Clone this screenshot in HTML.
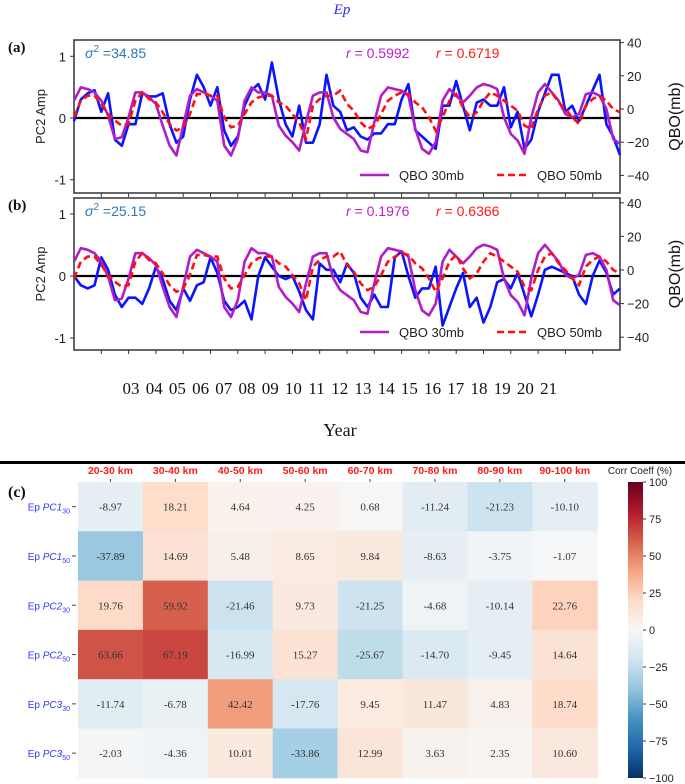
<!DOCTYPE html>
<html><head><meta charset="utf-8"><style>
body{margin:0;background:#fff;}
svg{display:block;}
</style></head><body>
<svg id="fig" width="685" height="784" viewBox="0 0 685 784" xmlns="http://www.w3.org/2000/svg">
<text x="342" y="14" text-anchor="middle" font-family="Liberation Serif, serif" font-style="italic" font-size="15" fill="#2a2aff">Ep</text>
<g id="pa"></g>
<g id="pb"></g>
<g id="years"></g>
<text x="340" y="436" text-anchor="middle" font-family="Liberation Serif, serif" font-size="18" fill="#111">Year</text>
<rect x="0" y="461" width="685" height="3" fill="#000"/>
<text x="8" y="497" font-family="Liberation Serif, serif" font-weight="bold" font-size="16" fill="#111">(c)</text>
<g id="hm"></g>
</svg>
<script>
// ---- data ----
const startYear = 2002, stepYear = 0.25;
const pc2A = [-0.05,0.3,0.4,0.45,0.1,0.4,-0.35,-0.45,-0.1,-0.1,0.4,0.35,0.35,0.4,-0.1,-0.4,-0.3,0.3,0.7,0.5,0.2,0.5,-0.2,-0.45,-0.3,0.2,0.45,0.55,0.3,0.9,0.3,-0.1,-0.3,0.2,-0.4,-0.4,-0.1,0.7,0.2,0.1,-0.2,-0.15,-0.3,-0.35,-0.25,-0.25,-0.1,-0.1,0.3,0.55,-0.2,-0.3,-0.4,-0.5,0.2,0.2,0.6,0.2,-0.2,0.25,0.3,0.2,0.2,0.5,-0.15,0.1,-0.5,-0.35,0.1,0.4,0.7,0.7,0.1,0.2,-0.05,0.2,0.45,0.7,-0.1,-0.3,-0.6];
const pc2B = [0,-0.15,-0.2,-0.15,0.3,0.1,-0.3,-0.5,-0.35,-0.35,-0.45,-0.2,0.15,-0.05,-0.4,-0.55,-0.2,-0.4,-0.15,-0.1,0.3,0.05,-0.4,-0.55,-0.5,-0.4,-0.7,0,0.3,0.15,0,-0.05,0,-0.25,-0.55,-0.7,0.2,0.1,0.1,-0.1,0.2,0.05,-0.35,-0.5,-0.3,-0.5,-0.5,0.3,0.4,0,-0.35,-0.2,-0.2,0.15,-0.8,-0.5,-0.2,0.05,-0.5,-0.35,-0.75,-0.5,-0.1,-0.05,-0.2,0.05,-0.3,-0.65,-0.3,0.1,0.15,0.1,0.05,0,-0.3,-0.45,0,0.25,0.05,-0.3,-0.2];
const qbo30 = [5,13,12,10,5,-4,-18,-17,-5,10,10,7,3,-10,-22,-28,-10,8,12,10,8,5,-22,-28,-18,5,13,10,10,8,-10,-16,-20,-25,-8,8,10,10,-5,-12,-15,-18,-25,-26,-8,8,13,12,11,8,-12,-24,-27,-20,5,12,8,4,8,13,15,14,12,-5,-15,-19,-27,-5,10,15,10,5,-3,-5,-3,9,10,8,0,-18,-21];
const qbo50 = [-5,5,8,8,3,-3,-7,-10,-9,5,10,6,4,-2,-9,-13,-11,-3,9,9,8,8,-5,-11,-10,-3,4,7,8,8,4,2,-3,-8,-18,2,6,8,8,11,3,-1,-8,-12,-10,-3,5,8,10,9,4,1,-5,-13,-5,5,9,1,-5,-2,5,10,8,5,2,-1,-10,-12,0,8,10,4,0,-5,-9,2,6,8,5,0,-2];
const yearLabels = ["03","04","05","06","07","08","09","10","11","12","13","14","15","16","17","18","19","20","21"];
const leftTicks = [1,0,-1];
const rightTicks = [40,20,0,-20,-40];
const colLabels = ["20-30 km","30-40 km","40-50 km","50-60 km","60-70 km","70-80 km","80-90 km","90-100 km"];
const rowBase = ["PC1","PC1","PC2","PC2","PC3","PC3"];
const rowSub = ["30","50","30","50","30","50"];
const row1 = [-8.97,18.21,4.64,4.25,0.68,-11.24,-21.23,-10.10];
const row2 = [-37.89,14.69,5.48,8.65,9.84,-8.63,-3.75,-1.07];
const row3 = [19.76,59.92,-21.46,9.73,-21.25,-4.68,-10.14,22.76];
const row4 = [63.66,67.19,-16.99,15.27,-25.67,-14.70,-9.45,14.64];
const row5 = [-11.74,-6.78,42.42,-17.76,9.45,11.47,4.83,18.74];
const row6 = [-2.03,-4.36,10.01,-33.86,12.99,3.63,2.35,10.60];
const cbTicks = [100,75,50,25,0,-25,-50,-75,-100];
const panelAStats = ["34.85","0.5992","0.6719"];
const panelBStats = ["25.15","0.1976","0.6366"];

const NS = "http://www.w3.org/2000/svg";
function mk(parent, tag, attrs, text){
  const e = document.createElementNS(NS, tag);
  for (const k in attrs) e.setAttribute(k, attrs[k]);
  if (text !== undefined) e.textContent = text;
  parent.appendChild(e); return e;
}
const X0 = 74, X1 = 620;
function xYear(y){ return X0 + (y - 2002) / 20 * (X1 - X0); }

function panel(g, cfg, blue, stats, label){
  const yL = v => cfg.y0 - cfg.ls * v;
  const yR = q => cfg.r0 - cfg.rs * q;
  const sans = "Liberation Sans, DejaVu Sans, sans-serif";
  let e;
  e = mk(g,'rect',{x:X0,y:cfg.top,width:X1-X0,height:cfg.bot-cfg.top,fill:'#fff',stroke:'#333','stroke-width':1.5});
   
  // zero line
  e = mk(g,'line',{x1:X0,x2:X1,y1:yL(0),y2:yL(0),stroke:'#000','stroke-width':2.2});
   
  // x ticks
  for (let k=1;k<20;k++){
    const x = xYear(2002+k);
    e = mk(g,'line',{x1:x,x2:x,y1:cfg.bot,y2:cfg.bot+4,stroke:'#333','stroke-width':1});
     
  }
  // left ticks
  leftTicks.forEach(v=>{
    e = mk(g,'line',{x1:X0-4,x2:X0,y1:yL(v),y2:yL(v),stroke:'#333'});
     
    e = mk(g,'text',{x:66,y:yL(v)+5,'text-anchor':'end','font-family':sans,'font-size':13,fill:'#222'}, v===-1?'-1':String(v));
     
  });
  rightTicks.forEach(q=>{
    e = mk(g,'line',{x1:X1,x2:X1+4,y1:yR(q),y2:yR(q),stroke:'#333'});
     
    e = mk(g,'text',{x:627,y:yR(q)+5,'font-family':sans,'font-size':13,fill:'#222'}, q<0?'\u2212'+(-q):String(q));
     
  });
  const ly = (cfg.top+cfg.bot)/2;
  e = mk(g,'text',{x:0,y:0,transform:`translate(45,${ly}) rotate(-90)`,'text-anchor':'middle','font-family':sans,'font-size':13,fill:'#222'},'PC2 Amp');
   
  e = mk(g,'text',{x:0,y:0,transform:`translate(680,${ly}) rotate(-90)`,'text-anchor':'middle','font-family':sans,'font-size':16,fill:'#111'},'QBO(mb)');
   
  e = mk(g,'text',{x:8,y:cfg.top+12,'font-family':'Liberation Serif, serif','font-weight':'bold','font-size':15,fill:'#111'},label);
   
  // series
  const pts = (arr, f) => arr.map((v,i)=>`${xYear(startYear+i*stepYear).toFixed(1)},${f(v).toFixed(1)}`).join(' ');
  e = mk(g,'polyline',{points:pts(blue,yL),fill:'none',stroke:'#0a14ff','stroke-width':2.6,'stroke-linejoin':'round'});
   
  e = mk(g,'polyline',{points:pts(qbo30,yR),fill:'none',stroke:'#b01ec8','stroke-width':2.6,'stroke-linejoin':'round'});
   
  e = mk(g,'polyline',{points:pts(qbo50,yR),fill:'none',stroke:'#ff1010','stroke-width':2.6,'stroke-dasharray':'7,4'});
   
  // annotations
  const ay = cfg.top + 18;
  e = mk(g,'text',{x:85,y:ay,'font-family':sans,'font-size':14,fill:'#2a7ab8'});
   
  mk(e,'tspan',{'font-style':'italic'},'σ');
  mk(e,'tspan',{dy:-6,'font-size':10},'2');
  mk(e,'tspan',{dy:6},' =' + stats[0]);
  e = mk(g,'text',{x:346,y:ay,'font-family':sans,'font-size':14,fill:'#c21ccc'});
   
  mk(e,'tspan',{'font-style':'italic'},'r'); mk(e,'tspan',{},' = '+stats[1]);
  e = mk(g,'text',{x:436,y:ay,'font-family':sans,'font-size':14,fill:'#ff1a1a'});
   
  mk(e,'tspan',{'font-style':'italic'},'r'); mk(e,'tspan',{},' = '+stats[2]);
  // legend
  const lg = mk(g,'g',{});
   
  const yy = cfg.leg;
  e = mk(lg,'line',{x1:360,x2:389,y1:yy,y2:yy,stroke:'#b01ec8','stroke-width':2.6});
   
  e = mk(lg,'text',{x:399,y:yy+5,'font-family':sans,'font-size':13,fill:'#222'},'QBO 30mb');
   
  e = mk(lg,'line',{x1:497,x2:526,y1:yy,y2:yy,stroke:'#ff1010','stroke-width':2.6,'stroke-dasharray':'7,4'});
   
  e = mk(lg,'text',{x:537,y:yy+5,'font-family':sans,'font-size':13,fill:'#222'},'QBO 50mb');
   
}
panel(document.getElementById('pa'),{top:40,bot:193,y0:118,ls:61.7,r0:109,rs:1.66,leg:175},pc2A,panelAStats,'(a)');
panel(document.getElementById('pb'),{top:198,bot:350,y0:276,ls:62,r0:270,rs:1.68,leg:332},pc2B,panelBStats,'(b)');

const yg = document.getElementById('years');
yearLabels.forEach((t,i)=>{
  const e = mk(yg,'text',{x:131+i*23.2,y:394,'text-anchor':'middle','font-family':'Liberation Serif, serif','font-size':17,fill:'#111'},t);
   
});

// heatmap
const stops = ['#053061','#2166ac','#4393c3','#92c5de','#d1e5f0','#f7f7f7','#fddbc7','#f4a582','#d6604d','#b2182b','#67001f'];
function hex(c){return [1,3,5].map(i=>parseInt(c.substr(i,2),16));}
function cmap(v){
  let t = (v+100)/200*10; t = Math.max(0,Math.min(10,t));
  const i = Math.min(9,Math.floor(t)), f = t-i;
  const a = hex(stops[i]), b = hex(stops[i+1]);
  return `rgb(${a.map((x,k)=>Math.round(x+(b[k]-x)*f)).join(',')})`;
}
const hm = document.getElementById('hm');
const HX = 78, HY = 482, CW = 64.9, RH = 49.3;
const rows = [row1,row2,row3,row4,row5,row6];
colLabels.forEach((c,j)=>{
  let e = mk(hm,'text',{x:HX+CW*(j+0.5),y:474,'text-anchor':'middle','font-family':'Liberation Sans, sans-serif','font-weight':'bold','font-size':10.5,fill:'#ff1a1a'},c);
   
  e = mk(hm,'line',{x1:HX+CW*(j+0.5),x2:HX+CW*(j+0.5),y1:HY-3,y2:HY,stroke:'#444'});
   
});
rows.forEach((r,i)=>{
  let e = mk(hm,'text',{x:70,y:HY+RH*(i+0.5)+4,'text-anchor':'end','font-family':'Liberation Sans, sans-serif','font-size':10,fill:'#3535ff'});
   
  mk(e,'tspan',{},'Ep ');
  mk(e,'tspan',{'font-style':'italic'},rowBase[i]);
  mk(e,'tspan',{dy:3,'font-size':7},rowSub[i]);
  e = mk(hm,'line',{x1:72,x2:76,y1:HY+RH*(i+0.5),y2:HY+RH*(i+0.5),stroke:'#444'});
   
  r.forEach((v,j)=>{
    let c = mk(hm,'rect',{x:HX+CW*j,y:HY+RH*i,width:CW+0.5,height:RH+0.5,fill:cmap(v)});
     
    c = mk(hm,'text',{x:HX+CW*(j+0.5),y:HY+RH*(i+0.5)+4,'text-anchor':'middle','font-family':'Liberation Serif, serif','font-size':11,fill:'#333'},v.toFixed(2));
     
  });
});
// colorbar
const defs = mk(hm,'defs',{});
const lgd = mk(defs,'linearGradient',{id:'cbg',x1:0,y1:1,x2:0,y2:0});
stops.forEach((s,k)=>mk(lgd,'stop',{offset:(k/10),'stop-color':s}));
const CBX = 628, CBW = 15, CBT = 482, CBH = 296;
let cb = mk(hm,'rect',{x:CBX,y:CBT,width:CBW,height:CBH,fill:'url(#cbg)'});
 
cb = mk(hm,'text',{x:640,y:474,'text-anchor':'middle','font-family':'Liberation Sans, sans-serif','font-size':10,fill:'#222'},'Corr Coeff (%)');
 
cbTicks.forEach(v=>{
  const y = CBT + (100-v)/200*CBH;
  let e = mk(hm,'line',{x1:CBX+CBW,x2:CBX+CBW+3,y1:y,y2:y,stroke:'#333'});
   
  e = mk(hm,'text',{x:CBX+CBW+6,y:y+4,'font-family':'Liberation Sans, sans-serif','font-size':11,fill:'#222'}, v<0?'\u2212'+(-v):String(v));
   
});
</script>
</body></html>
